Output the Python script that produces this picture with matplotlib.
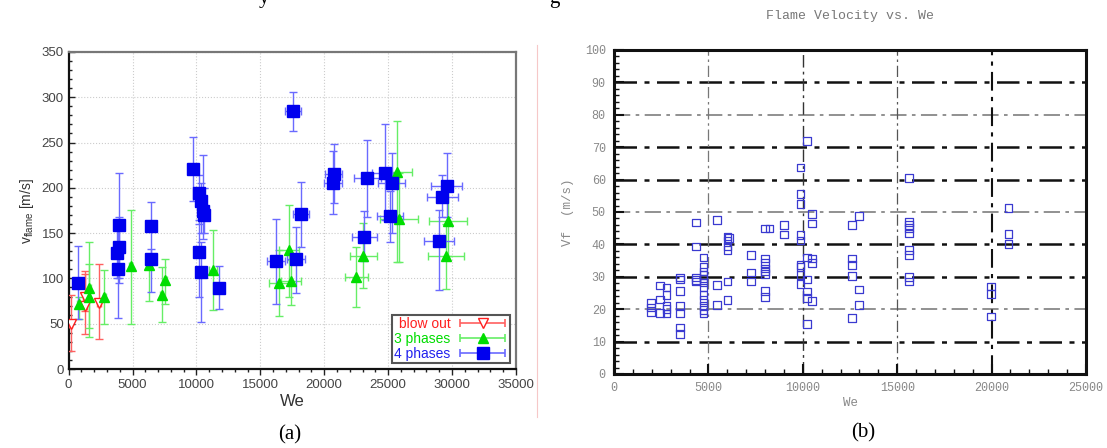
import numpy as np
import matplotlib.pyplot as plt
from matplotlib.ticker import MultipleLocator
from matplotlib.legend_handler import HandlerErrorbar

# Panel (a): flame velocity with error bars
blow_we = [150, 1250, 1300, 2350]
blow_v = [50, 80, 70, 73]
blow_lo = [20, 64, 39, 33]
blow_hi = [82, 108, 105, 116]
blow_xerr = [100, 150, 150, 150]

p3_we = [780, 1600, 1620, 2800, 4860, 6310, 7280, 7570, 11290, 16470, 17250, 17400,
         22510, 23070, 25720, 25850, 29530, 29720]
p3_v = [72, 80, 89, 80, 114, 115, 82, 98, 109, 95, 131, 97, 102, 125, 217, 166, 125, 163]
p3_lo = [55, 45, 35, 50, 50, 75, 52, 72, 65, 58, 80, 71, 68, 89, 118, 118, 88, 125]
p3_hi = [80, 116, 140, 109, 175, 120, 113, 122, 153, 131, 181, 120, 135, 161, 274, 216, 160, 200]
p3_xerr = [100, 100, 100, 100, 100, 100, 100, 100, 300, 770, 770, 770, 900, 1070, 1120, 1500, 1440, 1490]

p4_we = [755, 3865, 3810, 3970, 3920, 6420, 6420, 9710, 10200, 10330, 10540, 10590, 10200, 10360,
         11770, 16230, 17820, 17560, 18200, 20710, 20750, 23140, 23370, 24780, 25150, 25280,
         28980, 29240, 29590]
p4_v = [95, 110, 128, 135, 158.6, 121.5, 158, 220.8, 194, 186, 174.8, 170, 129.5, 106.7,
        89, 119.5, 121, 285, 171.6, 205, 215.3, 146, 211, 216.4, 169, 205,
        141.7, 190.3, 202]
p4_lo = [55, 56, 100, 95, 101, 85, 120, 185, 160, 150, 144, 150, 79, 52,
         66, 72, 84, 263, 135, 171, 183, 119, 168, 164, 140, 150,
         87, 168, 168]
p4_hi = [136, 160, 165, 168, 216, 132, 184, 256, 214, 205, 236, 200, 165, 140,
         114, 166, 157, 306, 207, 241, 248, 174, 253, 271, 196, 238,
         175, 214, 238]
p4_xerr = [150, 150, 150, 150, 150, 150, 150, 200, 200, 200, 200, 200, 200, 200,
           300, 700, 700, 630, 650, 700, 650, 990, 1040, 1030, 1000, 1070,
           1150, 1210, 1200]

# Panel (b): Vf vs We scatter
b_we = [1970, 1970, 1970,
        2450, 2450, 2450,
        2780, 2780, 2780, 2780, 2780,
        3490, 3490, 3490, 3490, 3490, 3490, 3490,
        4350, 4350, 4350, 4350, 4350,
        4730, 4730, 4730, 4730, 4730, 4730, 4730, 4730, 4730, 4730, 4730, 4730,
        5440, 5440, 5440,
        6000, 6000, 6000, 6000, 6000, 6000, 6080,
        7240, 7240, 7240,
        8010, 8010, 8010, 8010, 8010, 8010, 8010, 8010, 8240,
        9000, 9000,
        9870, 9870, 9870, 9870, 9870, 9870, 9870, 9870, 9870,
        10210, 10210, 10210, 10210, 10210, 10210,
        10480, 10480, 10480, 10480, 10480,
        12590, 12590, 12590, 12590, 12590,
        12970, 12970, 12970,
        15620, 15620, 15620, 15620, 15620, 15620, 15620, 15620, 15620,
        19970, 19970, 19970,
        20900, 20900, 20900]
b_v = [22, 20.5, 19,
       27.3, 23, 18.9,
       26.7, 24.4, 21, 20, 18.7,
       29.8, 29.2, 25.7, 21, 18.9, 14.4, 12.3,
       46.7, 39.3, 29.8, 29, 28.5,
       35.9, 33.1, 31.6, 30.5, 29.5, 28.2, 26.7, 24.4, 22.8, 21, 19.8, 18.9,
       47.5, 27.5, 21.3,
       42.4, 41.2, 39.3, 38.3, 28.5, 22.8, 41.9,
       36.7, 31.3, 28.5,
       44.9, 35.6, 34.2, 32.6, 31.6, 30.9, 25.7, 23.7, 44.9,
       46, 43.1,
       63.7, 55.5, 52.5, 42.9, 41.2, 33.6, 33.1, 30.5, 27.8,
       72, 36, 29.2, 25.4, 23.4, 15.4,
       49.3, 46.5, 35.7, 34.2, 22.5,
       46, 35.7, 33.6, 30.2, 17.2,
       48.8, 26.1, 21.3,
       60.4, 47, 46, 45, 43.4, 38.3, 36.7, 30, 28.5,
       27, 24.7, 17.7,
       51.2, 43.2, 40.1]

sans = ['Liberation Sans', 'DejaVu Sans']
mono = ['Liberation Mono', 'DejaVu Sans Mono']
serif = ['Liberation Serif', 'DejaVu Serif']

fig = plt.figure(figsize=(11.07, 4.48), dpi=100)

# ---------------- panel (a) ----------------
ax = fig.add_axes([0.062, 0.1763, 0.404, 0.7077])


def draw_series(we, v, lo, hi, xerr, mcolor, ecolor, marker, mfc, ms):
    yerr = [[vi - l for vi, l in zip(v, lo)], [h - vi for vi, h in zip(v, hi)]]
    ax.errorbar(we, v, yerr=yerr, xerr=xerr, fmt=marker, color=mcolor, mfc=mfc,
                mec=mcolor, ms=ms, ecolor=ecolor, elinewidth=1.0, capsize=3,
                capthick=1.0, zorder=3)
    # legend proxy: horizontal bar with caps only
    return ax.errorbar([np.nan], [np.nan], xerr=[1], fmt=marker, color=mcolor, mfc=mfc,
                       mec=mcolor, ms=ms, ecolor=ecolor, elinewidth=1.2, capsize=3,
                       capthick=1.2)


h1 = draw_series(blow_we, blow_v, blow_lo, blow_hi, blow_xerr, '#ff2020', '#ff6060', 'v', 'white', 7)
h2 = draw_series(p3_we, p3_v, p3_lo, p3_hi, p3_xerr, '#00dd00', '#66ee66', '^', '#00dd00', 7)
h3 = draw_series(p4_we, p4_v, p4_lo, p4_hi, p4_xerr, '#0000ee', '#6a6aff', 's', '#0000ee', 8)

ax.set_xlim(0, 35000)
ax.set_ylim(0, 350)
ax.xaxis.set_major_locator(MultipleLocator(5000))
ax.xaxis.set_minor_locator(MultipleLocator(1000))
ax.yaxis.set_major_locator(MultipleLocator(50))
ax.yaxis.set_minor_locator(MultipleLocator(10))
ax.grid(True, which='major', color='#cccccc', linestyle=':', linewidth=0.8)
ax.tick_params(axis='y', which='both', direction='in', colors='#222222', labelcolor='#444444', labelsize=9.5)
ax.tick_params(axis='x', which='both', direction='out', colors='#222222', labelcolor='#444444', labelsize=9.5)
ax.tick_params(which='major', length=4, width=1)
ax.tick_params(which='minor', length=2, width=1)
for lab in ax.get_xticklabels() + ax.get_yticklabels():
    lab.set_family(sans)
for side in ['left', 'bottom']:
    ax.spines[side].set_color('#111111')
    ax.spines[side].set_linewidth(1.6)
for side in ['top', 'right']:
    ax.spines[side].set_color('#777777')
    ax.spines[side].set_linewidth(1.6)
ax.set_xlabel('We', fontsize=12, color='#333333', family=sans, labelpad=2)
ax.set_ylabel(r'v$_{\mathregular{flame}}$ [m/s]', fontsize=10, color='#333333', family=sans, labelpad=4)

leg = ax.legend([h1, h2, h3], ['blow out', '3 phases', '4 phases'], loc='lower right',
                markerfirst=False, fancybox=False, framealpha=1, edgecolor='#555555',
                prop={'family': sans, 'size': 10}, borderpad=0.2, labelspacing=0.05,
                handlelength=3.6, handletextpad=0.5, borderaxespad=0.4,
                handler_map={type(h1): HandlerErrorbar(xerr_size=1.6)})
leg.get_frame().set_linewidth(1.5)
for txt, c in zip(leg.get_texts(), ['#ff2020', '#00dd00', '#2020ee']):
    txt.set_color(c)

# ---------------- panel (b) ----------------
bx = fig.add_axes([0.5547, 0.1652, 0.4263, 0.7232])
bx.scatter(b_we, b_v, marker='s', s=30, facecolors='none', edgecolors='#3a3ad0', linewidths=0.9, zorder=3)
bx.set_xlim(0, 25000)
bx.set_ylim(0, 100)
bx.xaxis.set_major_locator(MultipleLocator(5000))
bx.xaxis.set_minor_locator(MultipleLocator(1000))
bx.yaxis.set_major_locator(MultipleLocator(10))
bx.yaxis.set_minor_locator(MultipleLocator(2))
bx.tick_params(which='both', direction='in', top=False, right=False, color='#111111',
               labelcolor='#888888', labelsize=8.5)
bx.tick_params(which='major', length=7, width=1.5, pad=6)
bx.tick_params(which='minor', length=3.5, width=1)
for lab in bx.get_xticklabels() + bx.get_yticklabels():
    lab.set_family(mono)
for s in bx.spines.values():
    s.set_linewidth(2.2)
    s.set_color('#111111')

# dash-dot grid: heavy black and lighter gray lines
heavy_y = [10, 30, 40, 60, 70, 90]
light_y = [20, 50, 80]
for yv in heavy_y:
    bx.axhline(yv, color='#111111', linestyle='-.', linewidth=1.8, dashes=(9, 3, 2, 3), zorder=1)
for yv in light_y:
    bx.axhline(yv, color='#888888', linestyle='-.', linewidth=1.3, dashes=(9, 3, 2, 3), zorder=1)
for xv, c, lw in [(5000, '#777777', 0.9), (10000, '#333333', 1.0), (15000, '#555555', 0.9), (20000, '#111111', 1.5)]:
    bx.axvline(xv, color=c, linestyle='-.', linewidth=lw, dashes=(9, 3, 2, 3), zorder=1)

bx.set_xlabel('We', fontsize=9, color='#888888', family=mono, labelpad=2)
bx.set_ylabel('Vf  (m/s)', fontsize=9, color='#888888', family=mono, labelpad=8)
bx.set_title('Flame Velocity vs. We', fontsize=9.5, color='#777777', family=mono, pad=22)

# captions and cut-off document text fragments at the top edge
fig.text(0.262, 0.029, '(a)', fontsize=15, family=serif, ha='center', va='center')
fig.text(0.780, 0.033, '(b)', fontsize=15, family=serif, ha='center', va='center')
fig.text(0.238, 0.993, 'y', fontsize=15, family=serif, ha='center', va='baseline')
fig.text(0.501, 0.993, 'g', fontsize=15, family=serif, ha='center', va='baseline')
fig.add_artist(plt.Line2D([0.485, 0.485], [0.07, 0.90], color='#f6c8c8', linewidth=0.8))

fig.savefig('out.png', dpi=100)
